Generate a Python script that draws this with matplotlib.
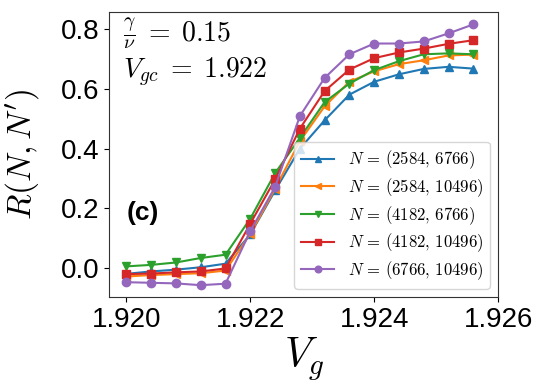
import numpy as np
import matplotlib
matplotlib.use("Agg")
import matplotlib.pyplot as plt

plt.rcParams['mathtext.fontset'] = 'cm'
plt.rcParams['font.family'] = ['Liberation Sans', 'DejaVu Sans']

# Dados
Vg = [1.9200, 1.9204, 1.9208, 1.9212, 1.9216, 1.9220, 1.9224, 1.9228,
      1.9232, 1.9236, 1.9240, 1.9244, 1.9248, 1.9252, 1.9256]

R_2584_6766 = [-0.019, -0.011, -0.005, 0.003, 0.015, 0.113, 0.260, 0.400,
               0.495, 0.581, 0.624, 0.649, 0.667, 0.674, 0.668]
R_2584_10496 = [-0.028, -0.023, -0.020, -0.017, -0.008, 0.115, 0.266, 0.425,
                0.542, 0.624, 0.659, 0.683, 0.696, 0.712, 0.715]
R_4182_6766 = [0.006, 0.011, 0.019, 0.034, 0.045, 0.166, 0.318, 0.436,
               0.556, 0.618, 0.663, 0.693, 0.716, 0.719, 0.716]
R_4182_10496 = [-0.020, -0.018, -0.014, -0.011, -0.001, 0.149, 0.297, 0.467,
                0.593, 0.665, 0.703, 0.722, 0.735, 0.751, 0.763]
R_6766_10496 = [-0.047, -0.049, -0.051, -0.057, -0.052, 0.124, 0.272, 0.509,
                0.637, 0.716, 0.752, 0.752, 0.759, 0.786, 0.816]

series = [R_2584_6766, R_2584_10496, R_4182_6766, R_4182_10496, R_6766_10496]
labels = [r'$N\,=\,(2584,\,6766)$', r'$N\,=\,(2584,\,10496)$', r'$N\,=\,(4182,\,6766)$',
          r'$N\,=\,(4182,\,10496)$', r'$N\,=\,(6766,\,10496)$']
marcadores = ['^', '<', 'v', 's', 'o']

fig = plt.figure(figsize=(5.48, 3.92), dpi=100)
ax = fig.add_axes([0.199, 0.242, 0.710, 0.727])

for y, lab, m in zip(series, labels, marcadores):
    ax.plot(Vg, y, marker=m, markersize=6, linewidth=1.5, label=lab)

ax.set_xlim(1.91972, 1.926)
ax.set_ylim(-0.097, 0.857)
ax.set_xticks([1.920, 1.922, 1.924, 1.926])
ax.set_xticklabels(['1.920', '1.922', '1.924', '1.926'])
ax.set_yticks([0.0, 0.2, 0.4, 0.6, 0.8])
ax.set_yticklabels(['0.0', '0.2', '0.4', '0.6', '0.8'])
ax.tick_params(labelsize=20)
for s in ax.spines.values():
    s.set_color('#333333')

ax.set_xlabel(r'$V_g$', fontsize=30, labelpad=2)
ax.set_ylabel(r"$R(N,N')$", fontsize=24, labelpad=14)

ax.text(0.035, 0.926, r'$\frac{\gamma}{\nu}\;=\;0.15$', transform=ax.transAxes,
        fontsize=20, va='center', ha='left')
ax.text(0.035, 0.789, r'$V_{gc}\;=\;1.922$', transform=ax.transAxes,
        fontsize=20, va='center', ha='left')
ax.text(0.046, 0.295, '(c)', transform=ax.transAxes, fontsize=19,
        fontweight='bold', va='center', ha='left')

ax.legend(loc='lower right', fontsize=12, numpoints=1, markerscale=0.8,
          labelspacing=0.3)

fig.savefig('out.png', dpi=100)
